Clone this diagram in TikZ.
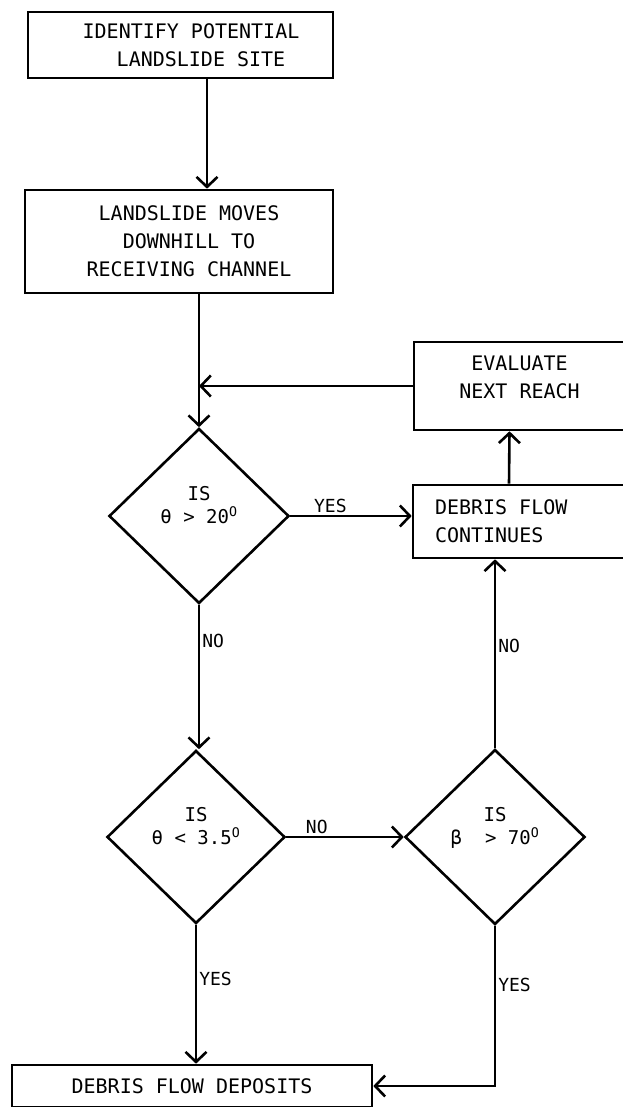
\documentclass[tikz,border=0pt]{standalone}
\usepackage{fontspec}
\setmonofont{DejaVu Sans Mono}
\usetikzlibrary{arrows.meta,shapes.geometric}

\tikzset{
  stepbox/.style={draw, line width=2.6pt, align=center, inner sep=0pt},
  testbox/.style={draw, diamond, line width=2.6pt, align=center, inner sep=0pt,
    font=\ttfamily\fontsize{19}{23}\selectfont},
  flow/.style={line width=2.6pt, -{Straight Barb[length=10pt,width=21pt]}},
  lbl/.style={font=\ttfamily\fontsize{18}{20}\selectfont, inner sep=2pt},
}

\begin{document}
\begin{tikzpicture}[x=1pt, y=-1pt, font=\ttfamily\fontsize{20}{28}\selectfont]
  \useasboundingbox (0,0) rectangle (622,1107);
  \node[stepbox, minimum width=305pt, minimum height=66pt] (site) at (180.5,45) {\hspace*{21pt}IDENTIFY POTENTIAL\\\hspace*{41pt}LANDSLIDE SITE};
  \node[stepbox, minimum width=308pt, minimum height=103pt] (moves) at (179,241.5) {\hspace*{20pt}LANDSLIDE MOVES\\\hspace*{20pt}DOWNHILL TO\\\hspace*{20pt}RECEIVING CHANNEL};
  \node[stepbox, minimum width=211pt, minimum height=88pt] (next) at (519.5,386) {EVALUATE\\NEXT REACH\\[-10pt]};
  \node[stepbox, minimum width=212pt, minimum height=73pt, text width=168pt, inner xsep=22pt, align=left] (cont) at (519,521.5) {DEBRIS\hspace{0.6em}FLOW\\CONTINUES};
  \node[testbox, minimum width=180pt, minimum height=175pt] (slope) at (199,516) {IS\\θ > 20\textsuperscript{O}\\\mbox{}};
  \node[testbox, minimum width=178pt, minimum height=173pt] (flat) at (196,837) {IS\\θ < 3.5\textsuperscript{O}\\\mbox{}};
  \node[testbox, minimum width=180pt, minimum height=175pt] (bend) at (495,837) {IS\\β\ \ > 70\textsuperscript{O}\\\mbox{}};
  \node[stepbox, minimum width=360pt, minimum height=42pt] (dep) at (192,1086) {DEBRIS FLOW DEPOSITS};

  \draw[flow] (site.south -| 207,0) -- (moves.north -| 207,0);
  \draw[line width=2.6pt] (moves.south -| slope.north) -- (next.west -| slope.north);
  \draw[flow] (next.west -| slope.north) -- (slope.north);
  \draw[flow] (next.west) -- (next.west -| slope.north);
  \draw[flow] (slope.east) -- node[lbl, above, pos=0.33] (yes1) {YES} (slope.east -| cont.west);
  \draw[flow] ([xshift=-10pt]cont.north) -- ([xshift=-10pt]next.south);
  \draw[flow] (slope.south) -- node[lbl, right, pos=0.25] (no1) {NO} (slope.south |- flat.north);
  \draw[flow] (flat.east) -- node[lbl, above, pos=0.26] (no2) {NO} (bend.west);
  \draw[flow] (bend.north) -- node[lbl, right, pos=0.54] (no3) {NO} (bend.north |- cont.south);
  \draw[flow] (flat.south) -- node[lbl, right, pos=0.39] (yes2) {YES} (flat.south |- dep.north);
  \draw[flow] (bend.south) -- node[lbl, right, pos=0.37] (yes3) {YES} (bend.south |- dep.east) -- (dep.east);
\end{tikzpicture}
\end{document}
